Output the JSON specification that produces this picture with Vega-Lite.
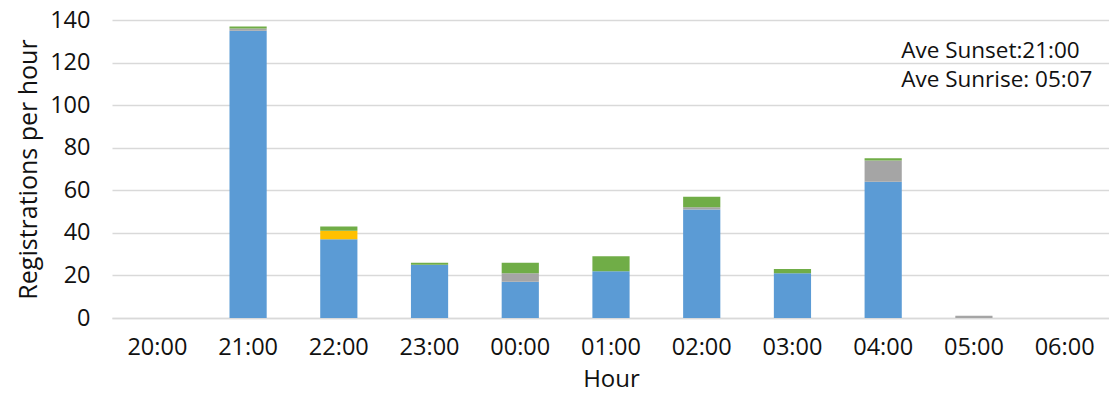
{
  "$schema": "https://vega.github.io/schema/vega-lite/v6.json",
  "width": 998,
  "height": 298,
  "autosize": {"type": "none"},
  "padding": {"left": 112, "top": 20, "right": 0, "bottom": 81},
  "background": "white",
  "config": {
    "font": "Open Sans",
    "view": {"stroke": null},
    "axis": {"labelFont": "Open Sans", "titleFont": "Open Sans", "labelColor": "#111111", "titleColor": "#111111", "titleFontWeight": "normal"}
  },
  "datasets": {
    "counts": [
      {"hour": "20:00", "series": "Series 1", "k": 1, "n": 0},
      {"hour": "21:00", "series": "Series 1", "k": 1, "n": 135},
      {"hour": "21:00", "series": "Series 3", "k": 3, "n": 1},
      {"hour": "21:00", "series": "Series 6", "k": 6, "n": 1},
      {"hour": "22:00", "series": "Series 1", "k": 1, "n": 37},
      {"hour": "22:00", "series": "Series 4", "k": 4, "n": 4},
      {"hour": "22:00", "series": "Series 6", "k": 6, "n": 2},
      {"hour": "23:00", "series": "Series 1", "k": 1, "n": 25},
      {"hour": "23:00", "series": "Series 6", "k": 6, "n": 1},
      {"hour": "00:00", "series": "Series 1", "k": 1, "n": 17},
      {"hour": "00:00", "series": "Series 3", "k": 3, "n": 4},
      {"hour": "00:00", "series": "Series 6", "k": 6, "n": 5},
      {"hour": "01:00", "series": "Series 1", "k": 1, "n": 22},
      {"hour": "01:00", "series": "Series 6", "k": 6, "n": 7},
      {"hour": "02:00", "series": "Series 1", "k": 1, "n": 51},
      {"hour": "02:00", "series": "Series 3", "k": 3, "n": 1},
      {"hour": "02:00", "series": "Series 6", "k": 6, "n": 5},
      {"hour": "03:00", "series": "Series 1", "k": 1, "n": 21},
      {"hour": "03:00", "series": "Series 6", "k": 6, "n": 2},
      {"hour": "04:00", "series": "Series 1", "k": 1, "n": 64},
      {"hour": "04:00", "series": "Series 3", "k": 3, "n": 10},
      {"hour": "04:00", "series": "Series 6", "k": 6, "n": 1},
      {"hour": "05:00", "series": "Series 3", "k": 3, "n": 1},
      {"hour": "06:00", "series": "Series 1", "k": 1, "n": 0}
    ],
    "notes": [
      {"hour": "04:00", "y": 122, "text": "Ave Sunset:21:00\nAve Sunrise: 05:07"}
    ]
  },
  "layer": [
    {
      "data": {"name": "counts"},
      "mark": {"type": "bar"},
      "encoding": {
        "x": {
          "field": "hour", "type": "ordinal",
          "sort": ["20:00", "21:00", "22:00", "23:00", "00:00", "01:00", "02:00", "03:00", "04:00", "05:00", "06:00"],
          "scale": {"paddingInner": 0.59, "paddingOuter": 0.295},
          "axis": {
            "title": "Hour", "titleFontSize": 24, "titlePadding": 9,
            "labelAngle": 0, "labelFontSize": 23.5, "labelPadding": 17,
            "ticks": false, "domainColor": "#d9d9d9", "domainWidth": 1.5, "grid": false
          }
        },
        "y": {
          "field": "n", "type": "quantitative", "stack": "zero",
          "scale": {"domain": [0, 140], "nice": false},
          "axis": {
            "title": "Registrations per hour", "titleFontSize": 25, "titlePadding": 8,
            "values": [0, 20, 40, 60, 80, 100, 120, 140],
            "labelFontSize": 23.5, "labelPadding": 22,
            "ticks": false, "domain": false,
            "gridColor": "#d9d9d9", "gridWidth": 1.5
          }
        },
        "color": {
          "field": "series", "type": "nominal",
          "scale": {"domain": ["Series 1", "Series 3", "Series 4", "Series 6"], "range": ["#5b9bd5", "#a5a5a5", "#ffc000", "#70ad47"]},
          "legend": null
        },
        "order": {"field": "k", "type": "quantitative"}
      }
    },
    {
      "data": {"name": "notes"},
      "mark": {"type": "text", "align": "left", "baseline": "alphabetic", "fontSize": 22.5, "lineBreak": "\n", "lineHeight": 29, "dx": 18, "color": "#111111"},
      "encoding": {
        "x": {
          "field": "hour", "type": "ordinal",
          "sort": ["20:00", "21:00", "22:00", "23:00", "00:00", "01:00", "02:00", "03:00", "04:00", "05:00", "06:00"]
        },
        "y": {"field": "y", "type": "quantitative"},
        "text": {"field": "text"}
      }
    }
  ]
}
